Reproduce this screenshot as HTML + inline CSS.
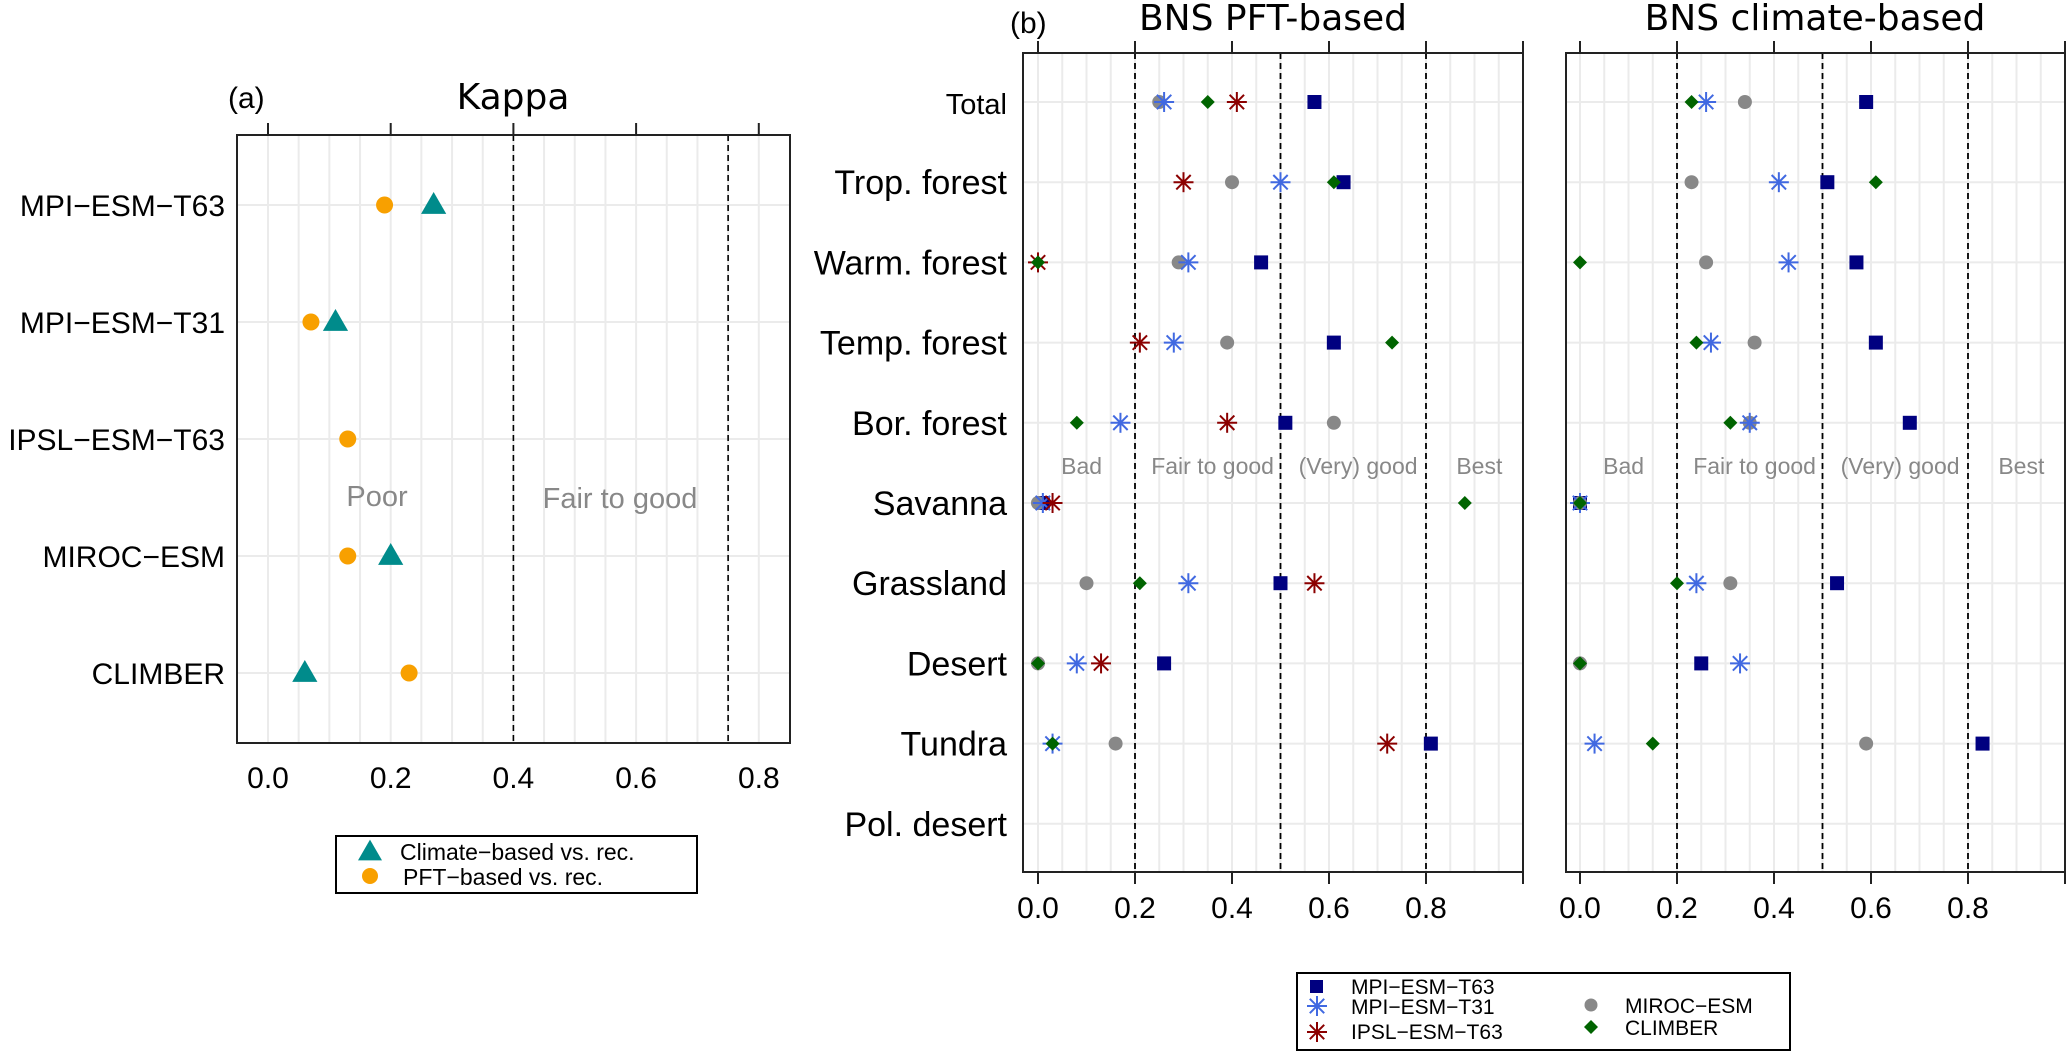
<!DOCTYPE html>
<html><head><meta charset="utf-8"><style>
html,body{margin:0;padding:0;background:#fff;}
svg{display:block;font-family:"Liberation Sans",sans-serif;}
</style></head><body>
<svg id="fig" width="2067" height="1052" viewBox="0 0 2067 1052" xmlns="http://www.w3.org/2000/svg">
<g id="pa"></g>
<g id="pb"></g>
<g id="pc"></g>
<g id="legA"></g>
<g id="legB"></g>
</svg>
<script>
// Panel (a) data
const kappaModels = ["MPI\u2212ESM\u2212T63","MPI\u2212ESM\u2212T31","IPSL\u2212ESM\u2212T63","MIROC\u2212ESM","CLIMBER"];
const kappaPFT = [0.19, 0.07, 0.13, 0.13, 0.23];
const kappaClimate = [0.27, 0.11, null, 0.20, 0.06];
const kappaTicks = ["0.0","0.2","0.4","0.6","0.8"];
const kappaThresholds = [0.4, 0.75];

// Panel (b) data
const biomes = ["Total","Trop. forest","Warm. forest","Temp. forest","Bor. forest","Savanna","Grassland","Desert","Tundra","Pol. desert"];
const pftT63    = [0.57,0.63,0.46,0.61,0.51,0.01,0.50,0.26,0.81,null];
const pftT31    = [0.26,0.50,0.31,0.28,0.17,0.01,0.31,0.08,0.03,null];
const pftIPSL   = [0.41,0.30,0.00,0.21,0.39,0.03,0.57,0.13,0.72,null];
const pftMIROC  = [0.25,0.40,0.29,0.39,0.61,0.00,0.10,0.00,0.16,null];
const pftCLIMBER= [0.35,0.61,0.00,0.73,0.08,0.88,0.21,0.00,0.03,null];
const cliT63    = [0.59,0.51,0.57,0.61,0.68,0.00,0.53,0.25,0.83,null];
const cliT31    = [0.26,0.41,0.43,0.27,0.35,0.00,0.24,0.33,0.03,null];
const cliMIROC  = [0.34,0.23,0.26,0.36,0.35,0.00,0.31,0.00,0.59,null];
const cliCLIMBER= [0.23,0.61,0.00,0.24,0.31,0.00,0.20,0.00,0.15,null];
const bnsTicks = ["0.0","0.2","0.4","0.6","0.8"];
const bnsThresholds = [0.2, 0.5, 0.8];
const bnsClasses = ["Bad","Fair to good","(Very) good","Best"];
const bnsClassPos = [0.09, 0.36, 0.66, 0.91];

const NS="http://www.w3.org/2000/svg";
function mk(parent, tag, attrs, text){
  const e=document.createElementNS(NS,tag);
  for(const k in attrs) e.setAttribute(k,attrs[k]);
  if(text!==undefined) e.textContent=text;
  parent.appendChild(e); return e;
}
const GRID="#ebebeb";

// ---------- Panel A ----------
const pa=document.getElementById('pa');
const aL=237,aR=790,aT=135,aB=743;
const ax=v=>268+v*613.5;
const ay=i=>205+i*117;
for(let v=-0.05;v<=0.851;v+=0.05){ if(ax(v)>aL+1&&ax(v)<aR-1){
  const l=mk(pa,'line',{x1:ax(v),x2:ax(v),y1:aT,y2:aB,stroke:GRID,'stroke-width':2});
   }}
kappaModels.forEach((m,i)=>{
  const l=mk(pa,'line',{x1:aL,x2:aR,y1:ay(i),y2:ay(i),stroke:GRID,'stroke-width':2});
   
  const t=mk(pa,'text',{x:225,y:ay(i)+11,'font-size':30,'text-anchor':'end',fill:'#000'},m);
   
});
kappaThresholds.forEach(v=>{
  const l=mk(pa,'line',{x1:ax(v),x2:ax(v),y1:aT,y2:aB,stroke:'#000','stroke-width':1.6,'stroke-dasharray':'6,4'});
   
});
{const r=mk(pa,'rect',{x:aL,y:aT,width:aR-aL,height:aB-aT,fill:'none',stroke:'#222','stroke-width':2});
  }
kappaTicks.forEach(s=>{
  const v=parseFloat(s);
  const l=mk(pa,'line',{x1:ax(v),x2:ax(v),y1:aT-12,y2:aT,stroke:'#222','stroke-width':2});
   
  const t=mk(pa,'text',{x:ax(v),y:788,'font-size':30,'text-anchor':'middle'},s);
   
});
{let t=mk(pa,'text',{x:513,y:109,'font-size':36,'text-anchor':'middle','font-family':'DejaVu Sans, sans-serif'},'Kappa');
  
 t=mk(pa,'text',{x:228,y:108,'font-size':30},'(a)');
  
 t=mk(pa,'text',{x:377,y:506,'font-size':29,'text-anchor':'middle',fill:'#888'},'Poor');
  
 t=mk(pa,'text',{x:620,y:508,'font-size':29,'text-anchor':'middle',fill:'#888','xml:space':'preserve'},'Fair  to  good');
  }
function tri(g,x,y,s,c){return mk(g,'polygon',{points:`${x},${y-s*0.62} ${x-s*0.6},${y+s*0.42} ${x+s*0.6},${y+s*0.42}`,fill:c});}
kappaModels.forEach((m,i)=>{
  if(kappaPFT[i]!=null){const c=mk(pa,'circle',{cx:ax(kappaPFT[i]),cy:ay(i),r:8.5,fill:'#f8a000'});
     }
  if(kappaClimate[i]!=null){const p=tri(pa,ax(kappaClimate[i]),ay(i),21,'#008b8b');
     }
});

// ---------- Panel B helpers ----------
function star(g,x,y,c){
  const gg=mk(g,'g',{stroke:c,'stroke-width':2});
  const r=10;
  mk(gg,'line',{x1:x-r,x2:x+r,y1:y,y2:y}); mk(gg,'line',{x1:x,x2:x,y1:y-r,y2:y+r});
  const d=r*0.72;
  mk(gg,'line',{x1:x-d,x2:x+d,y1:y-d,y2:y+d}); mk(gg,'line',{x1:x-d,x2:x+d,y1:y+d,y2:y-d});
  return gg;
}
function panelB(g,x0,L,R,title,titleX,series,isLeft){
  const T=53,B=872;
  const bx=v=>x0+v*485;
  const by=i=>102+i*80.2;
  for(let k=0;k<=19;k++){const v=k*0.05; if(bx(v)<R-1){
    const l=mk(g,'line',{x1:bx(v),x2:bx(v),y1:T,y2:B,stroke:GRID,'stroke-width':2});
     }}
  biomes.forEach((b,i)=>{
    const l=mk(g,'line',{x1:L,x2:R,y1:by(i),y2:by(i),stroke:GRID,'stroke-width':2});
     
    if(isLeft){const t=mk(g,'text',{x:1007,y:by(i)+12,'font-size':i==0?29:34,'text-anchor':'end'},b);
       }
  });
  bnsThresholds.forEach(v=>{
    const l=mk(g,'line',{x1:bx(v),x2:bx(v),y1:T,y2:B,stroke:'#000','stroke-width':1.8,'stroke-dasharray':'6,4'});
     
  });
  bnsClasses.forEach((c,i)=>{
    const t=mk(g,'text',{x:bx(bnsClassPos[i]),y:474,'font-size':23,'text-anchor':'middle',fill:'#888'},c);
     
  });
  const r=mk(g,'rect',{x:L,y:T,width:R-L,height:B-T,fill:'none',stroke:'#222','stroke-width':2});
   
  [0,0.2,0.4,0.6,0.8,1.0].forEach(v=>{
    mk(g,'line',{x1:bx(v),x2:bx(v),y1:T-12,y2:T,stroke:'#222','stroke-width':2});
    mk(g,'line',{x1:bx(v),x2:bx(v),y1:B,y2:B+12,stroke:'#222','stroke-width':2});
  });
  bnsTicks.forEach(s=>{
    const t=mk(g,'text',{x:bx(parseFloat(s)),y:918,'font-size':30,'text-anchor':'middle'},s);
     
  });
  const tt=mk(g,'text',{x:titleX,y:30,'font-size':36,'text-anchor':'middle','font-family':'DejaVu Sans, sans-serif','xml:space':'preserve'},title);
   
  // markers
  biomes.forEach((b,i)=>{
    const y=by(i);
    if(series.t63 && series.t63[i]!=null){const e=mk(g,'rect',{x:bx(series.t63[i])-7,y:y-7,width:14,height:14,fill:'#000080'});
       }
    if(series.miroc && series.miroc[i]!=null){const e=mk(g,'circle',{cx:bx(series.miroc[i]),cy:y,r:7,fill:'#888'});
       }
    if(series.t31 && series.t31[i]!=null){const e=star(g,bx(series.t31[i]),y,'#4169e1');
       }
    if(series.ipsl && series.ipsl[i]!=null){const e=star(g,bx(series.ipsl[i]),y,'#8b0000');
       }
    if(series.climber && series.climber[i]!=null){const x=bx(series.climber[i]);
      const e=mk(g,'polygon',{points:`${x},${y-7} ${x+7},${y} ${x},${y+7} ${x-7},${y}`,fill:'#006400'});
       }
  });
}
panelB(document.getElementById('pb'),1038,1023,1523,'BNS  PFT-based',1273,
  {t63:pftT63,t31:pftT31,ipsl:pftIPSL,miroc:pftMIROC,climber:pftCLIMBER},true);
panelB(document.getElementById('pc'),1580,1566,2065,'BNS  climate-based',1815,
  {t63:cliT63,t31:cliT31,miroc:cliMIROC,climber:cliCLIMBER},false);
{const t=mk(document.getElementById('pb'),'text',{x:1010,y:33,'font-size':30},'(b)');
  }

// ---------- Legend A ----------
const la=document.getElementById('legA');
mk(la,'rect',{x:336,y:836,width:361,height:57,fill:'#fff',stroke:'#000','stroke-width':2});
tri(la,370,852,20,'#008b8b');
mk(la,'circle',{cx:370,cy:876,r:8,fill:'#f8a000'});
{let t=mk(la,'text',{x:400,y:860,'font-size':23},'Climate\u2212based vs. rec.');
  
 t=mk(la,'text',{x:403,y:885,'font-size':23},'PFT\u2212based vs. rec.');
  }

// ---------- Legend B ----------
const lb=document.getElementById('legB');
mk(lb,'rect',{x:1297,y:973,width:493,height:77,fill:'#fff',stroke:'#000','stroke-width':2});
mk(lb,'rect',{x:1310,y:980,width:13,height:13,fill:'#000080'});
star(lb,1317,1006,'#4169e1');
star(lb,1317,1032,'#8b0000');
mk(lb,'circle',{cx:1591,cy:1005,r:6.5,fill:'#888'});
mk(lb,'polygon',{points:'1591,1020 1598,1027 1591,1034 1584,1027',fill:'#006400'});
[["MPI\u2212ESM\u2212T63",1351,994],["MPI\u2212ESM\u2212T31",1351,1014],["IPSL\u2212ESM\u2212T63",1351,1039],["MIROC\u2212ESM",1625,1013],["CLIMBER",1625,1035]].forEach(a=>{
  const t=mk(lb,'text',{x:a[1],y:a[2],'font-size':21},a[0]);
   
});
</script>
</body></html>
